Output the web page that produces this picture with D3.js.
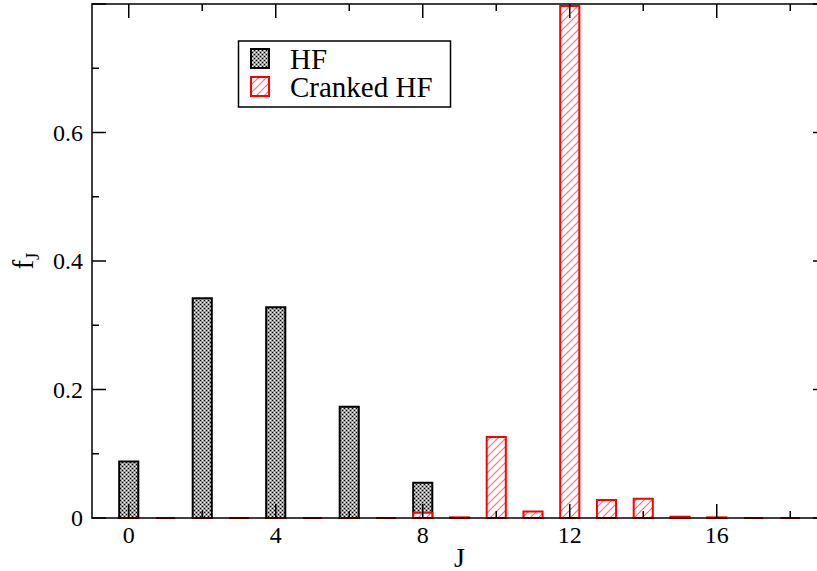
<!DOCTYPE html>
<html>
<head>
<meta charset="UTF-8">
<script src="https://d3js.org/d3.v7.min.js"></script>
<style>
    body { margin: 0; background: #fff; }
    svg { display: block; font-family: "Liberation Serif", "Times New Roman", serif; }
</style>
</head>
<body>
<svg width="817" height="571"></svg>
<script>
    // J values and the two series
    const J = [0, 1, 2, 3, 4, 5, 6, 7, 8, 9, 10, 11, 12, 13, 14, 15, 16, 17, 18];
    const hf = [0.088, 0, 0.342, 0, 0.328, 0, 0.173, 0, 0.055, 0, 0, 0, 0, 0, 0, 0, 0, 0, 0];
    const cranked = [0, 0, 0, 0, 0, 0, 0, 0, 0.008, 0.001, 0.126, 0.010, 0.797, 0.028, 0.030, 0.002, 0.001, 0, 0];
    const xMajor = [0, 4, 8, 12, 16];
    const xMinor = [2, 6, 10, 14, 18];
    const yMajor = [0, 0.2, 0.4, 0.6, 0.8];
    const yMinor = [0.1, 0.3, 0.5, 0.7];
    const yLabels = ["0", "0.2", "0.4", "0.6"];

    const svg = d3.select("svg");
    const x = d3.scaleLinear().domain([-1, 19]).range([92, 827]);
    const y = d3.scaleLinear().domain([0, 0.8]).range([518, 4]);
    const barW = x(0.52) - x(0);

    // fill patterns
    const defs = svg.append("defs");
    const dots = defs.append("pattern").attr("id", "dots")
        .attr("patternUnits", "userSpaceOnUse").attr("width", 4).attr("height", 4);
    dots.append("rect").attr("width", 4).attr("height", 4).attr("fill", "#9a9a9a");
    [[0, 0, "#000"], [2, 2, "#000"], [2, 0, "#fff"], [0, 2, "#fff"]].forEach(p => {
        dots.append("rect").attr("x", p[0]).attr("y", p[1]).attr("width", 1).attr("height", 1).attr("fill", p[2]);
    });
    const hatch = defs.append("pattern").attr("id", "hatch")
        .attr("patternUnits", "userSpaceOnUse").attr("width", 8).attr("height", 8);
    hatch.append("rect").attr("width", 8).attr("height", 8).attr("fill", "#fff");
    hatch.append("path").attr("d", "M-2,2 L2,-2 M0,8 L8,0 M6,10 L10,6")
        .attr("stroke", "#ff6f6f").attr("stroke-width", 1.2);

    // bars as closed paths so zero-height bars still show their outline
    const barPath = v => d => {
        const x0 = x(d) - barW / 2, x1 = x(d) + barW / 2;
        return `M${x0},${y(0)}H${x1}V${y(v[d])}H${x0}Z`;
    };
    svg.append("g").selectAll("path").data(J).join("path")
        .attr("d", barPath(hf))
        .attr("fill", "url(#dots)")
        .attr("stroke", "#000").attr("stroke-width", 2);

    svg.append("g").selectAll("path").data(J).join("path")
        .attr("d", barPath(cranked))
        .attr("fill", "url(#hatch)")
        .attr("stroke", "#ff0000").attr("stroke-width", 2);

    // frame and inward ticks
    const axes = svg.append("g").attr("stroke", "#000").attr("stroke-width", 1.5);
    axes.append("rect").attr("x", x(-1)).attr("y", y(0.8))
        .attr("width", x(19) - x(-1)).attr("height", y(0) - y(0.8)).attr("fill", "none");
    const tk = (vals, len) => {
        vals.forEach(v => {
            axes.append("line").attr("x1", x(v)).attr("x2", x(v)).attr("y1", y(0)).attr("y2", y(0) - len);
            axes.append("line").attr("x1", x(v)).attr("x2", x(v)).attr("y1", y(0.8)).attr("y2", y(0.8) + len);
        });
    };
    tk(xMajor, 14);
    tk(xMinor, 7);
    const tky = (vals, len) => {
        vals.forEach(v => {
            axes.append("line").attr("x1", x(-1)).attr("x2", x(-1) + len).attr("y1", y(v)).attr("y2", y(v));
            axes.append("line").attr("x1", x(19)).attr("x2", x(19) - len).attr("y1", y(v)).attr("y2", y(v));
        });
    };
    tky(yMajor, 14);
    tky(yMinor, 7);

    // tick labels
    svg.append("g").selectAll("text").data(xMajor).join("text")
        .attr("x", d => x(d)).attr("y", 543)
        .attr("text-anchor", "middle").attr("font-size", 24)
        .text(d => d);
    svg.append("g").selectAll("text").data(yLabels).join("text")
        .attr("x", 83).attr("y", d => y(+d)).attr("dy", "0.35em")
        .attr("text-anchor", "end").attr("font-size", 24)
        .text(d => d);

    // axis titles
    svg.append("text").attr("x", (x(-1) + x(19)) / 2).attr("y", 567)
        .attr("text-anchor", "middle").attr("font-size", 28).text("J");
    const yl = svg.append("text")
        .attr("transform", "translate(33,261) rotate(-90)")
        .attr("text-anchor", "middle").attr("font-size", 29);
    yl.append("tspan").text("f");
    yl.append("tspan").attr("font-size", 19).attr("dy", 6).text("J");

    // legend
    const lg = svg.append("g");
    lg.append("rect").attr("x", 238.5).attr("y", 41).attr("width", 212).attr("height", 66)
        .attr("fill", "#fff").attr("stroke", "#000").attr("stroke-width", 1.5);
    const items = [["HF", "url(#dots)", "#000"], ["Cranked HF", "url(#hatch)", "#ff0000"]];
    items.forEach((it, i) => {
        lg.append("rect").attr("x", 251).attr("y", 49 + i * 28).attr("width", 18).attr("height", 19)
            .attr("fill", it[1]).attr("stroke", it[2]).attr("stroke-width", 2);
        lg.append("text").attr("x", 290).attr("y", 69 + i * 28)
            .attr("font-size", 29).text(it[0]);
    });
</script>
</body>
</html>
